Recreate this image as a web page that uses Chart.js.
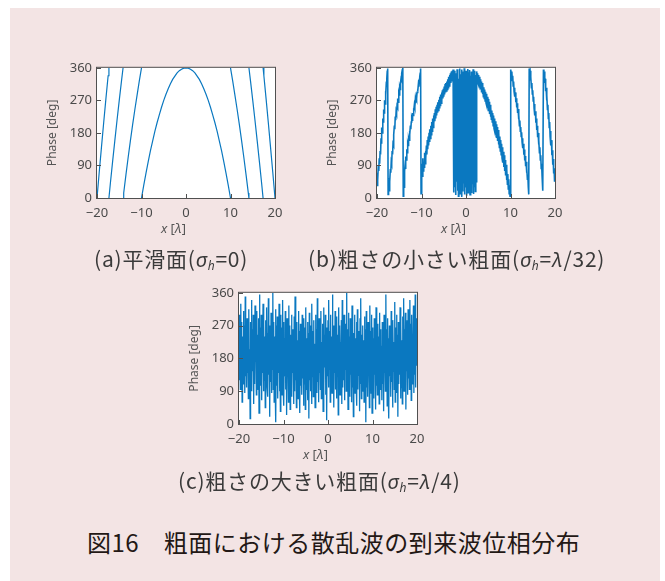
<!DOCTYPE html>
<html>
<head>
<meta charset="utf-8">
<script src="https://cdn.jsdelivr.net/npm/chart.js@4.4.1/dist/chart.umd.min.js"></script>
<style>
  body { margin: 0; background: #fff; width: 665px; height: 581px; overflow: hidden; }
  #panel { position: absolute; left: 10px; top: 8px; width: 650px; height: 573px; background: #f3e4e4; }
  canvas { position: absolute; }
  .cap { position: absolute; font-family: "Noto Sans CJK JP"; font-size: 21px; line-height: 24px; letter-spacing: 0.8px; color: #3a3a3a; white-space: nowrap; }
  .cap i { font-family: "Noto Sans", sans-serif; font-size: 20px; }
  .cap sub { font-size: 12px; vertical-align: -3px; line-height: 0; }
  #title { position: absolute; left: 87px; top: 528px; font-family: "Noto Sans CJK JP"; font-size: 24px; line-height: 28px; color: #231815; white-space: nowrap; letter-spacing: 0.5px; }
</style>
</head>
<body>
<div id="panel"></div>
<canvas id="chartA" width="260" height="195" style="left:30px;top:55px"></canvas>
<canvas id="chartB" width="260" height="195" style="left:310px;top:55px"></canvas>
<canvas id="chartC" width="260" height="196" style="left:172px;top:280px"></canvas>
<div class="cap" style="left:94px;top:246px">(a)平滑面(<i>σ<sub>h</sub></i>=0)</div>
<div class="cap" style="left:308px;top:246px">(b)粗さの小さい粗面(<i>σ<sub>h</sub></i>=<i>λ</i>/32)</div>
<div class="cap" style="left:178px;top:468px">(c)粗さの大きい粗面(<i>σ<sub>h</sub></i>=<i>λ</i>/4)</div>
<div id="title">図16　粗面における散乱波の到来波位相分布</div>
<script>
// axis ticks
const xTicks = [-20, -10, 0, 10, 20];
const yTicks = [0, 90, 180, 270, 360];

// (a) smooth surface: wrapped phase, null = break between branches
const smoothX = [-20, -19.5, -19, -18.5, -18, -17.5, -17.32, -17.32,
  -17.32, -17, -16.5, -16, -15.5, -15, -14.5, -14.14, -14.14,
  -14.14, -14, -13.5, -13, -12.5, -12, -11.5, -11, -10.5, -10, -10,
  -10, -9.5, -9, -8.5, -8, -7.5, -7, -6.5, -6, -5.5, -5, -4.5, -4, -3.5, -3, -2.5, -2, -1.5, -1, -0.5, 0,
  0.5, 1, 1.5, 2, 2.5, 3, 3.5, 4, 4.5, 5, 5.5, 6, 6.5, 7, 7.5, 8, 8.5, 9, 9.5, 10, 10,
  10, 10.5, 11, 11.5, 12, 12.5, 13, 13.5, 14, 14.14, 14.14,
  14.14, 14.5, 15, 15.5, 16, 16.5, 17, 17.32, 17.32,
  17.32, 17.5, 18, 18.5, 19, 19.5, 20];
const smoothY = [0, 71, 140, 208, 274, 338, 360, null,
  0, 40, 100, 158, 215, 270, 323, 360, null,
  0, 14, 64, 112, 158, 202, 244, 284, 323, 360, null,
  0, 35, 68, 100, 130, 157, 184, 208, 230, 251, 270, 287, 302, 316, 328, 337, 346, 352, 356, 359, 360,
  359, 356, 352, 346, 337, 328, 316, 302, 287, 270, 251, 230, 208, 184, 157, 130, 100, 68, 35, 0, null,
  360, 323, 284, 244, 202, 158, 112, 64, 14, 0, null,
  360, 323, 270, 215, 158, 100, 40, 0, null,
  360, 338, 274, 208, 140, 71, 0];

// (b) small roughness, sampled every 0.1 lambda from -20 to 20
const smallRough = [
  35, 70, 50, 90, 75, 110, 95, 130, 120, 165,
  150, 195, 180, 220, 210, 245, 235, 270, 260, 295,
  285, 320, 330, 350, 358, 10, 30, 20, 55, 45,
  80, 70, 100, 95, 130, 120, 150, 145, 175, 200,
  190, 225, 215, 240, 235, 255, 250, 275, 265, 290,
  285, 305, 300, 320, 330, 325, 345, 355, 360, 5,
  40, 30, 75, 90, 80, 115, 105, 135, 125, 150,
  145, 165, 160, 185, 175, 200, 190, 210, 220, 215,
  235, 228, 248, 240, 258, 252, 270, 262, 280, 275,
  292, 300, 295, 315, 308, 325, 335, 345, 358, 12,
  40, 95, 60, 110, 75, 100, 85, 125, 95, 130,
  110, 145, 120, 160, 135, 170, 145, 180, 155, 190,
  165, 200, 175, 210, 185, 220, 195, 228, 205, 235,
  212, 245, 220, 252, 228, 258, 236, 265, 242, 272,
  250, 280, 256, 286, 262, 292, 268, 298, 275, 302,
  280, 308, 286, 315, 292, 318, 296, 322, 300, 328,
  305, 335, 310, 340, 312, 345, 318, 350, 322, 352,
  325, 355, 340, 15, 352, 30, 345, 8, 338, 45,
  356, 20, 348, 5, 330, 25, 358, 12, 342, 35,
  355, 3, 350, 18, 336, 40, 359, 10, 345, 28,
  352, 6, 340, 22, 357, 15, 348, 33, 354, 9,
  338, 26, 350, 14, 344, 38, 356, 11, 335, 30,
  352, 18, 340, 45, 350, 330, 345, 318, 340, 312,
  335, 305, 328, 300, 322, 292, 318, 288, 312, 280,
  306, 275, 300, 268, 294, 262, 288, 255, 280, 248,
  274, 240, 266, 232, 258, 225, 250, 218, 242, 210,
  235, 200, 228, 192, 220, 184, 212, 175, 204, 166,
  196, 158, 188, 148, 180, 140, 170, 130, 160, 120,
  150, 110, 140, 98, 128, 86, 118, 75, 105, 62,
  92, 50, 80, 38, 66, 25, 52, 12, 35, 5,
  12, 355, 340, 350, 325, 338, 310, 322, 295, 305,
  280, 292, 265, 276, 250, 262, 235, 246, 218, 230,
  200, 214, 185, 196, 170, 182, 155, 165, 138, 150,
  120, 134, 104, 116, 88, 100, 70, 82, 52, 64,
  30, 10, 358, 345, 352, 325, 335, 305, 318, 288,
  298, 268, 280, 248, 260, 228, 240, 208, 220, 188,
  200, 168, 180, 148, 160, 125, 140, 105, 118, 82,
  95, 60, 72, 20, 355, 340, 350, 318, 330, 295,
  305, 270, 285, 245, 258, 220, 235, 195, 210, 170,
  185, 145, 160, 118, 132, 92, 108, 68, 82, 45,
  60];

// (c) large roughness, sampled every 0.1 lambda from -20 to 20
const largeRough = [
  300, 120, 260, 95, 330, 150, 280, 60, 240, 110, 310, 175, 270, 85, 350, 130, 225, 100, 290, 140,
  250, 70, 315, 160, 205, 15, 280, 120, 340, 90, 260, 145, 300, 55, 235, 110, 325, 170, 270, 80,
  310, 130, 245, 95, 290, 30, 355, 150, 265, 105, 300, 65, 220, 140, 330, 90, 275, 120, 240, 45,
  285, 160, 320, 100, 250, 75, 345, 135, 270, 20, 230, 115, 305, 85, 260, 150, 360, 95, 280, 60,
  240, 125, 315, 5, 270, 105, 295, 70, 225, 140, 330, 90, 255, 35, 300, 120, 265, 80, 340, 110,
  280, 50, 235, 130, 310, 95, 250, 25, 290, 145, 220, 60, 325, 100, 270, 40, 245, 115, 300, 75,
  260, 140, 215, 55, 295, 90, 350, 120, 240, 45, 280, 100, 230, 70, 310, 135, 255, 30, 275, 105,
  225, 80, 300, 125, 245, 50, 290, 110, 265, 40, 320, 95, 235, 140, 280, 65, 250, 15, 305, 120,
  270, 90, 240, 55, 330, 130, 255, 75, 285, 105, 220, 45, 300, 150, 260, 85, 345, 115, 235, 60,
  290, 140, 250, 95, 310, 70, 225, 120, 275, 35, 320, 105, 245, 155, 300, 80, 265, 10, 230, 130,
  285, 100, 340, 150, 255, 60, 300, 125, 240, 85, 355, 115, 270, 45, 230, 140, 310, 95, 260, 70,
  295, 130, 245, 25, 320, 110, 270, 80, 225, 145, 285, 55, 340, 100, 250, 120, 300, 65, 235, 150,
  275, 90, 360, 125, 260, 40, 305, 110, 240, 75, 290, 135, 220, 60, 325, 100, 265, 20, 250, 140,
  300, 85, 235, 120, 280, 50, 315, 95, 255, 130, 225, 35, 290, 110, 345, 70, 245, 145, 270, 90,
  230, 60, 295, 125, 260, 5, 310, 100, 240, 75, 280, 140, 215, 45, 325, 115, 255, 85, 300, 30,
  265, 120, 235, 70, 290, 135, 250, 40, 320, 105, 225, 80, 275, 150, 240, 55, 305, 95, 260, 125,
  215, 65, 280, 110, 245, 35, 300, 140, 230, 90, 355, 120, 260, 50, 290, 100, 235, 15, 270, 130,
  240, 75, 310, 115, 255, 45, 285, 145, 225, 95, 335, 60, 265, 125, 300, 85, 245, 20, 280, 110,
  250, 135, 320, 70, 270, 100, 230, 55, 295, 150, 345, 90, 260, 120, 305, 40, 240, 145, 285, 80,
  315, 125, 260, 95, 340, 150, 275, 65, 300, 110, 235, 170, 325, 85, 270, 135, 355, 100, 290, 160, 230];

const LINE = '#0a78c0';
const TICK = '#4a4a4a';

function onGrid(values) {
  const n = values.length - 1;
  return values.map((v, i) => ({ x: -20 + 40 * i / n, y: v }));
}

function drawRuns(ctx, runs, x, y) {
  let total = 0;
  runs.forEach(r => { ctx.font = r[1]; total += ctx.measureText(r[0]).width; });
  let cx = x - total;
  runs.forEach(r => { ctx.font = r[1]; ctx.fillText(r[0], cx, y); cx += ctx.measureText(r[0]).width; });
}

const frame = {
  id: 'frame',
  beforeDatasetsDraw(chart) {
    const { ctx, chartArea: a } = chart;
    ctx.save();
    ctx.fillStyle = '#fff';
    ctx.fillRect(a.left, a.top, a.width, a.height);
    ctx.restore();
  },
  afterDraw(chart) {
    const { ctx, chartArea: a, scales: { x, y } } = chart;
    ctx.save();
    ctx.strokeStyle = '#505050';
    ctx.lineWidth = 1;
    ctx.strokeRect(a.left - 0.5, a.top - 0.5, a.width + 1, a.height + 1);
    ctx.beginPath();
    x.ticks.forEach(t => {
      const px = Math.round(x.getPixelForValue(t.value)) + 0.5;
      ctx.moveTo(px, a.bottom); ctx.lineTo(px, a.bottom - 4);
    });
    y.ticks.forEach(t => {
      const py = Math.round(y.getPixelForValue(t.value)) + 0.5;
      ctx.moveTo(a.left, py); ctx.lineTo(a.left + 4, py);
    });
    ctx.stroke();

    ctx.fillStyle = '#555';
    ctx.textBaseline = 'middle';
    ctx.textAlign = 'left';
    drawRuns(ctx, [['x', 'italic 13px "Noto Sans"'], [' [', '13px "Noto Sans"'],
      ['λ', 'italic 13px "Noto Sans"'], [']', '13px "Noto Sans"']],
      (a.left + a.right) / 2, a.bottom + 31);

    ctx.translate(a.left - 44, (a.top + a.bottom) / 2);
    ctx.rotate(-Math.PI / 2);
    ctx.textAlign = 'center';
    ctx.font = '12px "Noto Sans"';
    ctx.fillText('Phase [deg]', 0, 0);
    ctx.restore();
  }
};

function makeChart(id, points, width) {
  return new Chart(document.getElementById(id), {
    type: 'line',
    data: { datasets: [{ data: points, borderColor: LINE, borderWidth: width, pointRadius: 0, tension: 0, spanGaps: false }] },
    options: {
      responsive: false,
      animation: false,
      events: [],
      layout: { padding: { top: 12, right: 15, left: 0, bottom: 0 } },
      plugins: { legend: { display: false }, tooltip: { enabled: false } },
      scales: {
        x: {
          type: 'linear', min: -20, max: 20,
          afterBuildTicks: s => { s.ticks = xTicks.map(v => ({ value: v })); },
          afterFit: s => { s.height = 52; },
          grid: { display: false, drawTicks: false },
          border: { display: false },
          ticks: { padding: 7, color: TICK, maxRotation: 0, font: { family: 'Noto Sans', size: 13 },
                   callback: v => String(v).replace('-', '−') }
        },
        y: {
          min: 0, max: 360,
          afterBuildTicks: s => { s.ticks = yTicks.map(v => ({ value: v })); },
          afterFit: s => { s.width = 67; },
          grid: { display: false, drawTicks: false },
          border: { display: false },
          ticks: { padding: 5, color: TICK, font: { family: 'Noto Sans', size: 13 } }
        }
      }
    },
    plugins: [frame]
  });
}

makeChart('chartA', smoothX.map((v, i) => ({ x: v, y: smoothY[i] })), 1.2);
makeChart('chartB', onGrid(smallRough), 1.6);
makeChart('chartC', onGrid(largeRough), 1.3);
</script>
</body>
</html>
